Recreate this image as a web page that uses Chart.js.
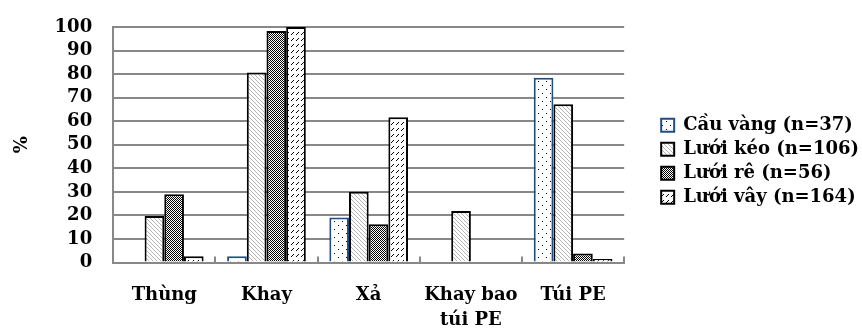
<!DOCTYPE html>
<html>
<head>
<meta charset="utf-8">
<script src="https://cdn.jsdelivr.net/npm/chart.js@4"></script>
<style>
  html, body { margin: 0; padding: 0; background: #fff; }
  #wrap { width: 862px; height: 329px; }
</style>
</head>
<body>
<div id="wrap"><canvas id="chart" width="862" height="329"></canvas></div>
<script>
// categories and series (percent)
const categories = ['Thùng', 'Khay', 'Xả', ['Khay bao', 'túi PE'], 'Túi PE'];
const seriesNames = ['Cầu vàng (n=37)', 'Lưới kéo (n=106)', 'Lưới rê (n=56)', 'Lưới vây (n=164)'];
const cauVang = [0, 2.7, 19.1, 0, 78.5];
const luoiKeo = [19.8, 80.7, 30.1, 21.9, 67.2];
const luoiRe = [29, 98.3, 16.3, 0, 3.9];
const luoiVay = [2.7, 100, 61.7, 0, 1.5];
const yTicks = [0, 10, 20, 30, 40, 50, 60, 70, 80, 90, 100];

const FONT = 'DejaVu Serif';

// helper to build a repeating fill pattern
function makePattern(w, h, draw) {
    const c = document.createElement('canvas');
    c.width = w;
    c.height = h;
    const g = c.getContext('2d');
    g.fillStyle = '#fff';
    g.fillRect(0, 0, w, h);
    draw(g);
    return g.createPattern(c, 'repeat');
}

const dotFill = makePattern(8, 8, g => {
    g.fillStyle = '#000';
    g.fillRect(2, 1, 1, 1);
    g.fillRect(6, 5, 1, 1);
});
const diagFill = makePattern(4, 4, g => {
    g.fillStyle = '#b4b4b4';
    for (let i = 0; i < 4; i++) g.fillRect(i, i, 1, 1);
});
const checkFill = makePattern(2, 2, g => {
    g.fillStyle = '#000';
    g.fillRect(0, 0, 1, 1);
    g.fillRect(1, 1, 1, 1);
});
const dashFill = makePattern(5, 6, g => {
    g.fillStyle = '#000';
    g.fillRect(1, 4, 1, 1);
    g.fillRect(2, 3, 1, 1);
    g.fillRect(3, 2, 1, 1);
});

const values = [cauVang, luoiKeo, luoiRe, luoiVay];
const fills = [dotFill, diagFill, checkFill, dashFill];
const borders = ['#1f4e86', '#000', '#000', '#000'];

const ctx = document.getElementById('chart').getContext('2d');
new Chart(ctx, {
    type: 'bar',
    data: {
        labels: categories,
        datasets: values.map((v, i) => ({
            label: seriesNames[i],
            data: v,
            backgroundColor: fills[i],
            borderColor: borders[i],
            borderWidth: 2,
            categoryPercentage: 0.77,
            barPercentage: 1
        }))
    },
    options: {
        responsive: false,
        animation: false,
        layout: { padding: { left: 12, right: -7, top: 27, bottom: -30 } },
        plugins: {
            tooltip: { enabled: false },
            legend: {
                position: 'right',
                fullSize: false,
                maxWidth: 260,
                // empty title only pushes the items down a bit
                title: { display: true, text: ' ', font: { size: 10 }, padding: { top: 0, bottom: 21 } },
                labels: {
                    boxWidth: 13,
                    boxHeight: 13,
                    padding: 6,
                    color: '#000',
                    font: { family: FONT, size: 18, weight: 'bold' }
                }
            }
        },
        scales: {
            x: {
                grid: { display: true, drawOnChartArea: false, tickLength: -6, color: '#888', lineWidth: 2 },
                border: { color: '#888', width: 2 },
                ticks: {
                    color: '#000',
                    padding: 26,
                    maxRotation: 0,
                    font: { family: FONT, size: 18, weight: 'bold', lineHeight: 1.4 }
                }
            },
            y: {
                min: 0,
                max: 100,
                afterBuildTicks: s => { s.ticks = yTicks.map(v => ({ value: v })); },
                // invisible tick marks give the gap between labels and axis
                grid: { color: '#888', lineWidth: 2, tickLength: 21, tickColor: 'rgba(0,0,0,0)' },
                border: { color: '#888', width: 2 },
                title: {
                    display: true,
                    text: '%',
                    color: '#000',
                    padding: { top: 0, bottom: 21 },
                    font: { family: FONT, size: 18, weight: 'bold' }
                },
                ticks: {
                    color: '#000',
                    padding: 0,
                    autoSkip: false,
                    font: { family: FONT, size: 18, weight: 'bold' }
                }
            },
            gap: {
                position: 'right',
                display: true,
                grid: { display: false },
                border: { display: false },
                ticks: { display: false },
                afterFit: s => { s.width = 31; }
            }
        }
    }
});
</script>
</body>
</html>
